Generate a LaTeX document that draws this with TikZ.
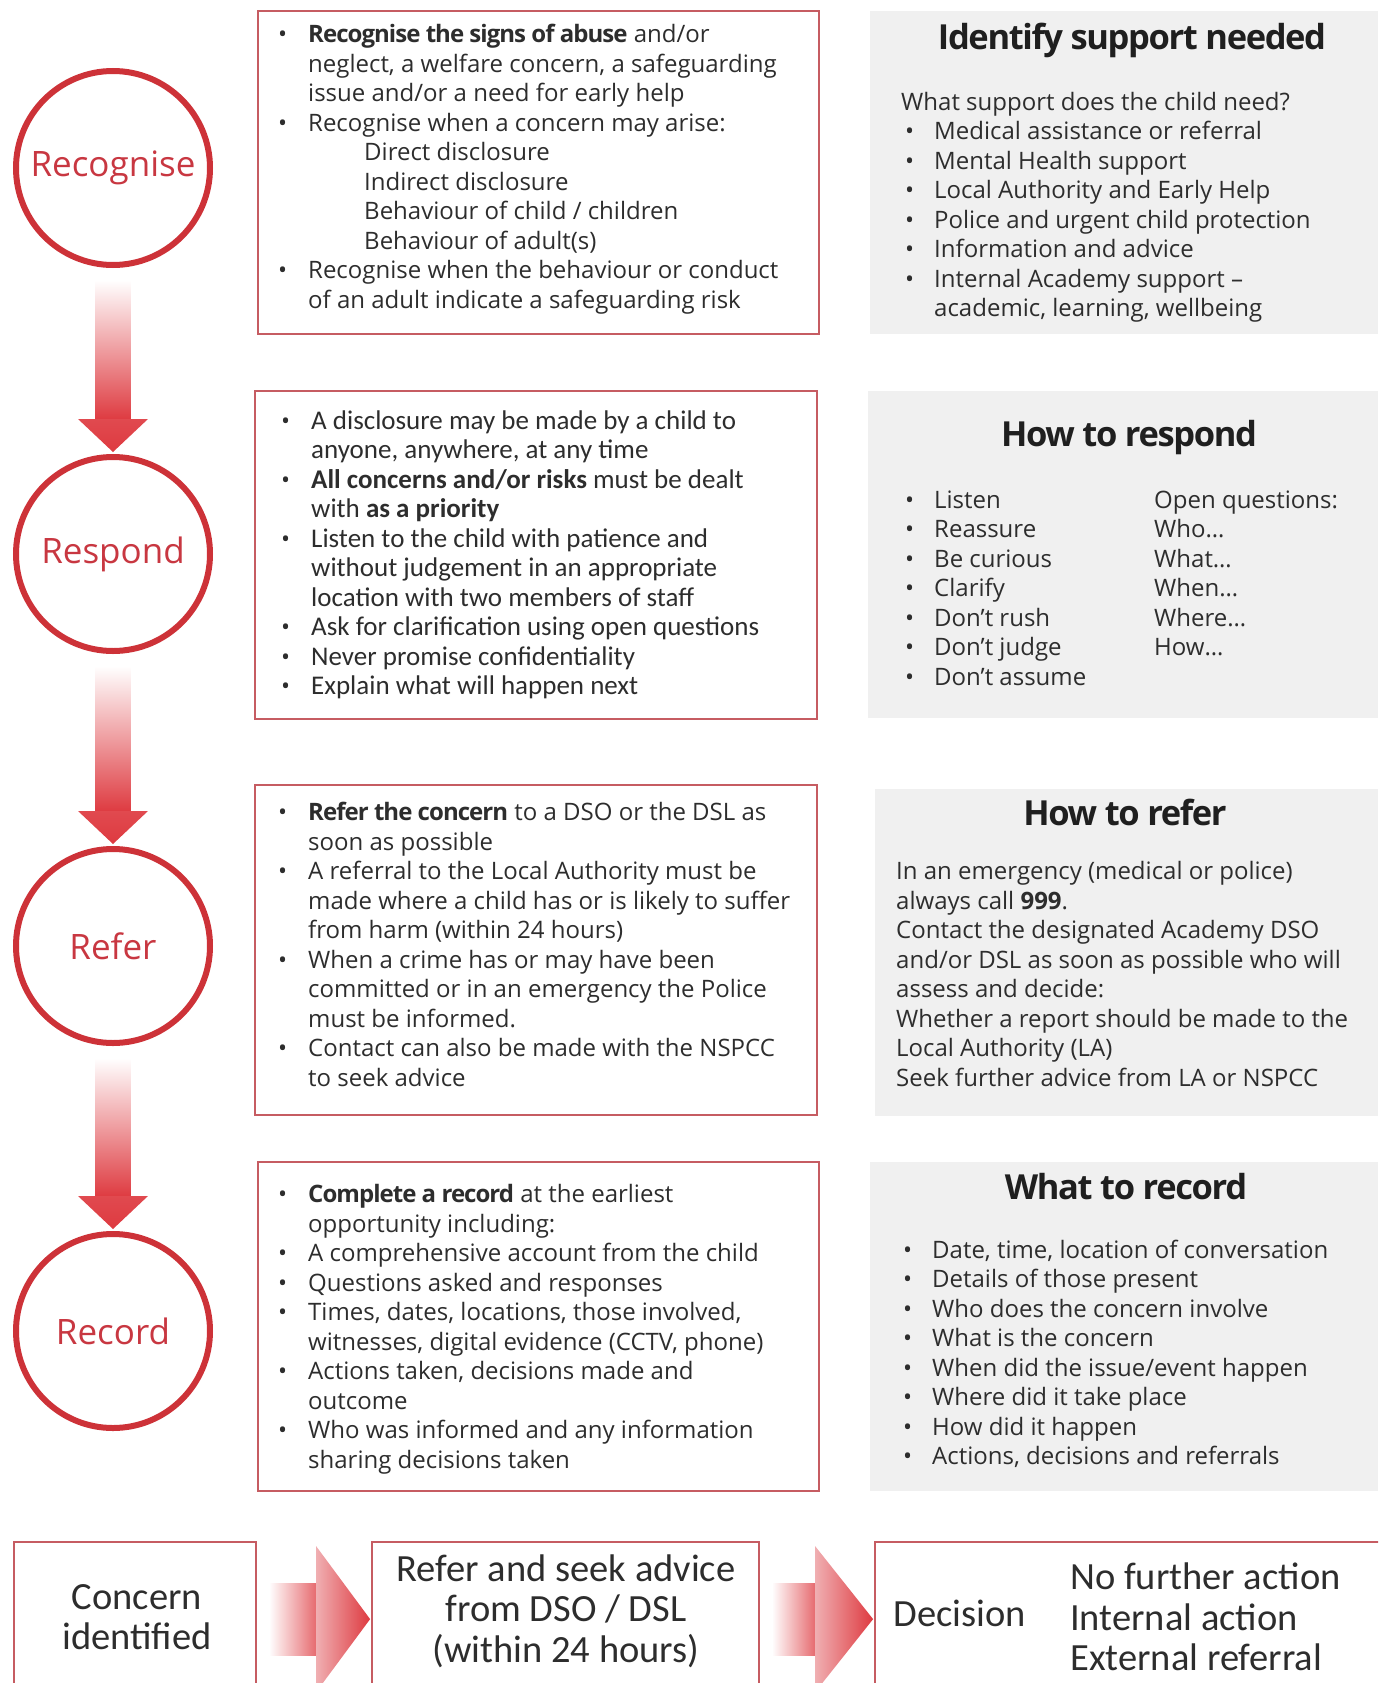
\documentclass[tikz,border=0pt]{standalone}
\usepackage{fontspec}
\setmainfont{Open Sans}
\newfontfamily\calfont{Carlito}
\newfontfamily\headfont[LetterSpace=-4]{Open Sans}
\usetikzlibrary{calc}

\definecolor{ringred}{RGB}{205,50,56}
\definecolor{labelred}{RGB}{200,55,65}
\definecolor{arrowred}{RGB}{222,58,64}
\definecolor{arrowpink}{RGB}{240,175,178}
\definecolor{edgered}{RGB}{198,92,98}
\definecolor{panelgray}{RGB}{240,240,240}
\definecolor{bodytext}{RGB}{45,45,45}

% list helpers
\newcommand\dotmark{{\normalfont\fontsize{24}{29.5}\selectfont\textbullet}}
\newcommand\itm[1]{\makebox[30pt][l]{\dotmark}#1}
\newcommand\cont[1]{\hspace*{30pt}#1}
\newcommand\itmB[1]{\hspace*{4pt}\makebox[29pt][l]{\dotmark}#1}
\newcommand\contB[1]{\hspace*{33pt}#1}
\newcommand\bft[1]{{\bfseries\addfontfeatures{LetterSpace=-4}#1}}

\begin{document}
\begin{tikzpicture}[x=1pt,y=-1pt,
  ring/.style={circle, draw=ringred, line width=6pt, minimum size=194pt, inner sep=0pt,
    font=\fontsize{35}{40}\selectfont, text=labelred},
  framebox/.style={draw=edgered, line width=1.8pt, inner sep=0pt},
  panel/.style={fill=panelgray},
  bodytxt/.style={anchor=north west, inner sep=0pt, align=left, text=bodytext,
    font=\fontsize{24}{29.5}\selectfont},
  calbody/.style={anchor=north west, inner sep=0pt, align=left, text=bodytext,
    font=\calfont\fontsize{27}{29.5}\selectfont},
  headtxt/.style={inner sep=0pt, text=black!88, font=\headfont\bfseries\fontsize{34.5}{40}\selectfont},
  bigtxt/.style={inner sep=0pt, text=bodytext, font=\calfont\fontsize{38.5}{40.5}\selectfont}
]
\useasboundingbox (0,0) rectangle (1378,1683);
\clip (0,0) rectangle (1378,1683);

% ---------- grey information panels ----------
\path[panel] (870,11) rectangle (1378,334);
\path[panel] (868,391) rectangle (1378,718);
\path[panel] (875,789) rectangle (1378,1116);
\path[panel] (870,1162) rectangle (1378,1491);

% ---------- framed boxes ----------
\draw[framebox] (258,11) rectangle (819,334);
\draw[framebox] (255,391) rectangle (817,719);
\draw[framebox] (255,785) rectangle (817,1115);
\draw[framebox] (258,1162) rectangle (819,1491);

% ---------- stage circles ----------
\node[ring] (c1) at (113,168) {Recognise};
\node[ring] (c2) at (113,554) {Respond};
\node[ring] (c3) at (113,946) {Refer};
\node[ring] (c4) at (113,1331) {Record};

% ---------- downward flow arrows between circles ----------
\foreach \a/\b in {c1/c2, c2/c3, c3/c4}{
  \shade[top color=white, bottom color=arrowred]
    ($(\a.south)+(-17.5,12)$) rectangle ($(\b.north)+(17.5,-34)$);
  \shade[top color=arrowred!92!white, bottom color=arrowred]
    ($(\b.north)+(-35,-35)$) -- ($(\b.north)+(35,-35)$) -- ($(\b.north)+(0,-2)$) -- cycle;
}

% ---------- stage texts ----------
\node[bodytxt] (t1) at (278,21.8) {%
\strut\itm{\bft{Recognise the signs of abuse} and/or}\\
\cont{neglect, a welfare concern, a safeguarding}\\
\cont{issue and/or a need for early help}\\
\itm{Recognise when a concern may arise:}\\
\hspace*{86pt}Direct disclosure\\
\hspace*{86pt}Indirect disclosure\\
\hspace*{86pt}Behaviour of child / children\\
\hspace*{86pt}Behaviour of adult(s)\\
\itm{Recognise when the behaviour or conduct}\\
\cont{of an adult indicate a safeguarding risk}};

\node[calbody] (t2) at (281,408.6) {%
\strut\itm{A disclosure may be made by a child to}\\
\cont{anyone, anywhere, at any time}\\
\itm{\textbf{All concerns and/or risks} must be dealt}\\
\cont{with \textbf{as a priority}}\\
\itm{Listen to the child with patience and}\\
\cont{without judgement in an appropriate}\\
\cont{location with two members of staff}\\
\itm{Ask for clarification using open questions}\\
\itm{Never promise confidentiality}\\
\itm{Explain what will happen next}};

\node[bodytxt] (t3) at (278,799.9) {%
\strut\itm{\bft{Refer the concern} to a DSO or the DSL as}\\
\cont{soon as possible}\\
\itm{A referral to the Local Authority must be}\\
\cont{made where a child has or is likely to suffer}\\
\cont{from harm (within 24 hours)}\\
\itm{When a crime has or may have been}\\
\cont{committed or in an emergency the Police}\\
\cont{must be informed.}\\
\itm{Contact can also be made with the NSPCC}\\
\cont{to seek advice}};

\node[bodytxt] (t4) at (278,1182) {%
\strut\itm{\bft{Complete a record} at the earliest}\\
\cont{opportunity including:}\\
\itm{A comprehensive account from the child}\\
\itm{Questions asked and responses}\\
\itm{Times, dates, locations, those involved,}\\
\cont{witnesses, digital evidence (CCTV, phone)}\\
\itm{Actions taken, decisions made and}\\
\cont{outcome}\\
\itm{Who was informed and any information}\\
\cont{sharing decisions taken}};

% ---------- panel texts ----------
\node[headtxt] (h1) at (1132,40) {Identify support needed};
\node[bodytxt] (p1) at (901,89.4) {%
\strut What support does the child need?\\
\itmB{Medical assistance or referral}\\
\itmB{Mental Health support}\\
\itmB{Local Authority and Early Help}\\
\itmB{Police and urgent child protection}\\
\itmB{Information and advice}\\
\itmB{Internal Academy support --}\\
\contB{academic, learning, wellbeing}};

\node[headtxt] (h2) at (1129,438) {How to respond};
\node[bodytxt] (p2) at (901,487.4) {%
\strut\itmB{Listen}\\
\itmB{Reassure}\\
\itmB{Be curious}\\
\itmB{Clarify}\\
\itmB{Don’t rush}\\
\itmB{Don’t judge}\\
\itmB{Don’t assume}};
\node[bodytxt] (q2) at (1154,487.4) {%
\strut Open questions:\\
Who…\\
What…\\
When…\\
Where…\\
How…};

\node[headtxt] (h3) at (1125,812) {How to refer};
\node[bodytxt] (p3) at (896,858.9) {%
\strut In an emergency (medical or police)\\
always call \textbf{999}.\\
Contact the designated Academy DSO\\
and/or DSL as soon as possible who will\\
assess and decide:\\
Whether a report should be made to the\\
Local Authority (LA)\\
Seek further advice from LA or NSPCC};

\node[headtxt] (h4) at (1126,1187) {What to record};
\node[bodytxt] (p4) at (899,1237.4) {%
\strut\itmB{Date, time, location of conversation}\\
\itmB{Details of those present}\\
\itmB{Who does the concern involve}\\
\itmB{What is the concern}\\
\itmB{When did the issue/event happen}\\
\itmB{Where did it take place}\\
\itmB{How did it happen}\\
\itmB{Actions, decisions and referrals}};

% ---------- bottom process row ----------
\node[framebox, rectangle, minimum width=242pt, minimum height=200pt] (b1) at (135,1642) {};
\node[framebox, rectangle, minimum width=387pt, minimum height=200pt] (b2) at (565.5,1642) {};
\node[framebox, rectangle, minimum width=520pt, minimum height=200pt] (b3) at (1135,1642) {};

\node[bigtxt, align=center] (s1) at (137,1617) {Concern\\identified};
\node[bigtxt, align=center] (s2) at (566,1611) {Refer and seek advice\\from DSO / DSL\\(within 24 hours)};
\node[bigtxt] (s3) at (960,1613) {Decision};
\node[bigtxt, anchor=west, align=left] (s4) at (1070,1617) {No further action\\Internal action\\External referral};

% right-pointing flow arrows between the bottom boxes
\foreach \a/\b/\len in {b1/b2/55, b2/b3/59}{
  \shade[left color=white, right color=arrowred!75!white]
    ($(\a.north east)+(12,42)$) rectangle ($(\b.north west)+(-\len,114)$);
  \shade[left color=arrowpink, right color=arrowred]
    ($(\b.north west)+(-\len,5)$) -- ($(\b.north west)+(-1,78)$) -- ($(\b.north west)+(-\len,151)$) -- cycle;
}
\end{tikzpicture}
\end{document}
